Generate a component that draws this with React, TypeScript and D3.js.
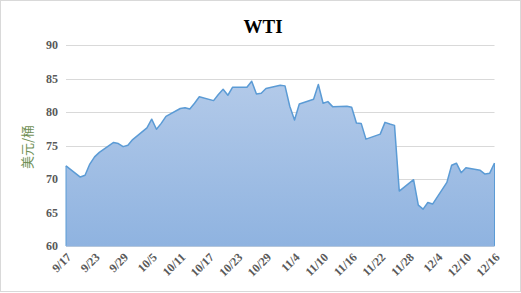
import React from "react";
import * as d3 from "d3";

const dates: string[] = [
  "2021-09-17","2021-09-20","2021-09-21","2021-09-22","2021-09-23","2021-09-24",
  "2021-09-27","2021-09-28","2021-09-29","2021-09-30","2021-10-01",
  "2021-10-04","2021-10-05","2021-10-06","2021-10-07","2021-10-08",
  "2021-10-11","2021-10-12","2021-10-13","2021-10-14","2021-10-15",
  "2021-10-18","2021-10-19","2021-10-20","2021-10-21","2021-10-22",
  "2021-10-25","2021-10-26","2021-10-27","2021-10-28","2021-10-29",
  "2021-11-01","2021-11-02","2021-11-03","2021-11-04","2021-11-05",
  "2021-11-08","2021-11-09","2021-11-10","2021-11-11","2021-11-12",
  "2021-11-15","2021-11-16","2021-11-17","2021-11-18","2021-11-19",
  "2021-11-22","2021-11-23","2021-11-24","2021-11-25","2021-11-26",
  "2021-11-29","2021-11-30","2021-12-01","2021-12-02","2021-12-03",
  "2021-12-06","2021-12-07","2021-12-08","2021-12-09","2021-12-10",
  "2021-12-13","2021-12-14","2021-12-15","2021-12-16"
];

const prices: number[] = [
  71.97, 70.29, 70.56, 72.23, 73.3, 73.98,
  75.45, 75.29, 74.83, 75.03, 75.88,
  77.62, 78.93, 77.43, 78.3, 79.35,
  80.52, 80.64, 80.44, 81.31, 82.28,
  81.7, 82.6, 83.4, 82.5, 83.7,
  83.7, 84.6, 82.7, 82.8, 83.5,
  84.0, 83.9, 80.86, 78.8, 81.2,
  81.9, 84.1, 81.3, 81.55, 80.8,
  80.85, 80.7, 78.35, 78.3, 75.95,
  76.7, 78.45, 78.2, 78.0, 68.2,
  69.9, 66.1, 65.5, 66.5, 66.26,
  69.49, 72.05, 72.36, 70.94, 71.67,
  71.29, 70.73, 70.87, 72.38
];

const yTicks: number[] = [60, 65, 70, 75, 80, 85, 90];
const xTickLabels: string[] = [
  "9/17","9/23","9/29","10/5","10/11","10/17","10/23","10/29",
  "11/4","11/10","11/16","11/22","11/28","12/4","12/10","12/16"
];
const xTickDates: string[] = [
  "2021-09-17","2021-09-23","2021-09-29","2021-10-05","2021-10-11","2021-10-17",
  "2021-10-23","2021-10-29","2021-11-04","2021-11-10","2021-11-16","2021-11-22",
  "2021-11-28","2021-12-04","2021-12-10","2021-12-16"
];

const title = "WTI";
const yTitle = "美元/桶";

const W = 521, H = 293;
const serif = "'Times New Roman', 'Liberation Serif', serif";

export default function App() {
  const parse = (s: string) => new Date(s + "T00:00:00Z");
  const data = dates.map((d, i) => ({ date: parse(d), value: prices[i] }));
  const x = d3.scaleUtc()
    .domain([parse(dates[0]), parse(dates[dates.length - 1])])
    .range([66, 494.5]);
  const y = d3.scaleLinear().domain([60, 90]).range([246, 45]);

  const area = d3.area<{ date: Date; value: number }>()
    .x(d => x(d.date)).y0(y(60)).y1(d => y(d.value));
  const line = d3.line<{ date: Date; value: number }>()
    .x(d => x(d.date)).y(d => y(d.value));

  return (
    <svg width={W} height={H} style={{ position: "absolute", left: 0, top: 0, display: "block", background: "#fff" }}>
      <defs>
        <linearGradient id="fillGrad" x1="0" y1="0" x2="0" y2="1">
          <stop offset="0%" stopColor="#b3cae9" />
          <stop offset="100%" stopColor="#8fb3e0" />
        </linearGradient>
      </defs>
      <rect x={0.5} y={0.5} width={W - 1} height={H - 2} fill="#fff" stroke="#d9d9d9" />
      <text x={263} y={33} textAnchor="middle" fontFamily={serif} fontWeight="bold" fontSize={19} fill="#000">{title}</text>
      {yTicks.map(t => (
        <g key={t}>
          <line x1={66} x2={494.5} y1={Math.round(y(t)) + 0.5} y2={Math.round(y(t)) + 0.5} stroke="#d9d9d9" strokeWidth={1} />
          <text x={58} y={y(t)} dy="0.35em" textAnchor="end" fontFamily={serif} fontWeight="bold" fontSize={12} fill="#595959">{t}</text>
        </g>
      ))}
      <path d={area(data) || ""} fill="url(#fillGrad)" stroke="none" />
      <path d={line(data) || ""} fill="none" stroke="#5b9bd5" strokeWidth={1.5} strokeLinejoin="round" />
      <line x1={66} x2={66} y1={y(prices[0])} y2={246} stroke="#5b9bd5" strokeWidth={1} />
      <line x1={494.5} x2={494.5} y1={y(prices[prices.length - 1])} y2={246} stroke="#5b9bd5" strokeWidth={1} />
      <line x1={66} x2={494.5} y1={246} y2={246} stroke="#8fb3e0" strokeWidth={1} />
      {xTickDates.map((d, i) => {
        const px = x(parse(d));
        return (
          <text key={d} transform={`translate(${px + 3},${255}) rotate(-45)`} textAnchor="end" dy="0.35em"
            fontFamily={serif} fontWeight="bold" fontSize={12} fill="#595959">{xTickLabels[i]}</text>
        );
      })}
      <text transform={`translate(27,147) rotate(-90)`} textAnchor="middle" dy="0.35em"
        fontFamily="'Noto Sans CJK SC', sans-serif" fontSize={13} fill="#6f8f55">{yTitle}</text>
    </svg>
  );
}
